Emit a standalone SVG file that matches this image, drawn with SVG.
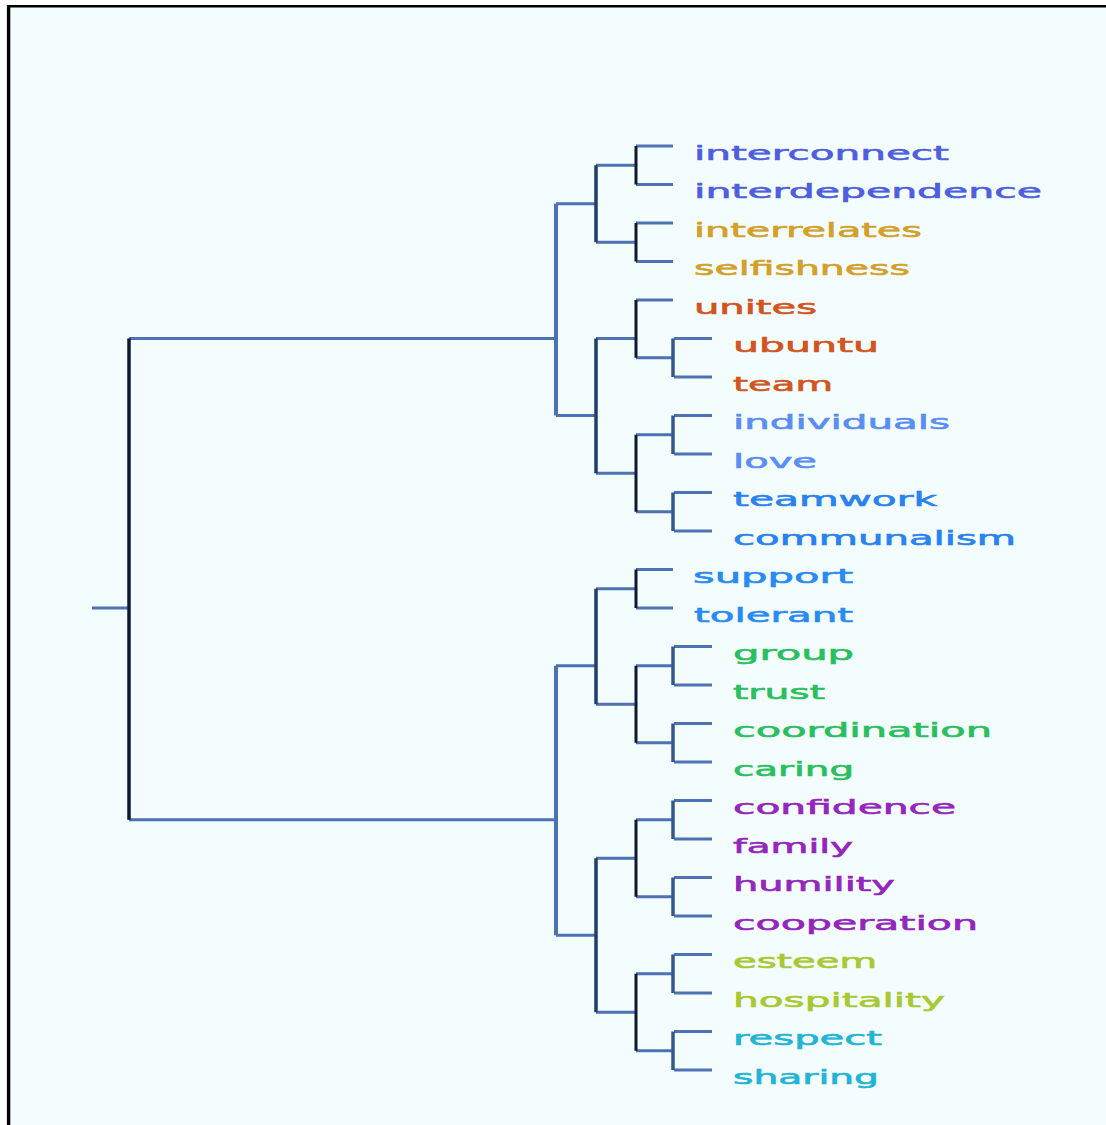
<svg xmlns="http://www.w3.org/2000/svg" width="1106" height="1125" viewBox="0 0 1106 1125">
<style>
.t{font-family:"DejaVu Sans","Liberation Sans",sans-serif;font-size:20px;stroke-width:0.6}
.h{stroke:#4c72b4;stroke-width:3;fill:none}
.v0{stroke:#0e1830;stroke-width:3.5;fill:none}
.v1{stroke:#4c72b4;stroke-width:4;fill:none}
.v2{stroke:#223d66;stroke-width:3.5;fill:none}
.v3{stroke:#0e1830;stroke-width:3;fill:none}
.v4{stroke:#35568e;stroke-width:3.5;fill:none}
.c1{fill:#4e5ede;stroke:#4e5ede}.c2{fill:#d3a02a;stroke:#d3a02a}.c3{fill:#d25420;stroke:#d25420}.c4{fill:#5a8ef3;stroke:#5a8ef3}.c5{fill:#2a82f0;stroke:#2a82f0}
.c6{fill:#2a8af3;stroke:#2a8af3}.c7{fill:#2abf5e;stroke:#2abf5e}.c8{fill:#9426bc;stroke:#9426bc}.c9{fill:#a9c832;stroke:#a9c832}.c10{fill:#22b4d4;stroke:#22b4d4}
</style>
<rect width="1106" height="1125" fill="#ffffff"/>
<rect x="8" y="6" width="1098" height="1119" fill="#f4fdfd"/>
<g id="frame">
<line x1="7" y1="6.2" x2="1106" y2="6.2" stroke="#000" stroke-width="2.6"/>
<line x1="8.6" y1="5" x2="8.6" y2="1125" stroke="#000" stroke-width="3.4"/>
</g>
<g id="connectors">
<path class="h" d="M92,608H129M129,338.5H556M129,819.75H556"/>
<path class="v0" d="M129,338.5V819.75"/>
<path class="h" d="M556,203.75H596M556,415.5H596M556,665.75H596M556,935.25H596"/>
<path class="v1" d="M556,203.75V415.5M556,665.75V935.25"/>
<path class="h" d="M596,165.25H636M596,242.25H636M596,338.5H636M596,473.25H636M596,588.75H636M596,704.25H636M596,858.25H636M596,1012.25H636"/>
<path class="v2" d="M596,165.25V242.25M596,338.5V473.25M596,588.75V704.25M596,858.25V1012.25"/>
<path class="h" d="M636,146H673M636,184.5H673M636,223H673M636,261.5H673M636,300H673M636,569.5H673M636,608H673"/>
<path class="h" d="M636,357.75H674M636,434.75H674M636,511.75H674M636,665.75H674M636,742.75H674M636,819.75H674M636,896.75H674M636,973.75H674M636,1050.75H674"/>
<path class="v3" d="M636,146V184.5M636,223V261.5M636,300V357.75M636,434.75V511.75M636,569.5V608M636,665.75V742.75M636,819.75V896.75M636,973.75V1050.75"/>
<path class="h" d="M674,338.5H712M674,377H712M674,415.5H712M674,454H712M674,492.5H712M674,531H712M674,646.5H712M674,685H712M674,723.5H712M674,762H712M674,800.5H712M674,839H712M674,877.5H712M674,916H712M674,954.5H712M674,993H712M674,1031.5H712M674,1070H712"/>
<path class="v4" d="M673,338.5V377M673,415.5V454M673,492.5V531M673,646.5V685M673,723.5V762M673,800.5V839M673,877.5V916M673,954.5V993M673,1031.5V1070"/>
</g>
<g id="n-interconnect"><text class="t c1" x="694" y="159.5" textLength="255" lengthAdjust="spacingAndGlyphs">interconnect</text></g>
<g id="n-interdependence"><text class="t c1" x="694" y="198" textLength="348" lengthAdjust="spacingAndGlyphs">interdependence</text></g>
<g id="n-interrelates"><text class="t c2" x="694" y="236.5" textLength="228" lengthAdjust="spacingAndGlyphs">interrelates</text></g>
<g id="n-selfishness"><text class="t c2" x="694" y="275" textLength="216" lengthAdjust="spacingAndGlyphs">selfishness</text></g>
<g id="n-unites"><text class="t c3" x="694" y="313.5" textLength="123" lengthAdjust="spacingAndGlyphs">unites</text></g>
<g id="n-ubuntu"><text class="t c3" x="733" y="352" textLength="146" lengthAdjust="spacingAndGlyphs">ubuntu</text></g>
<g id="n-team"><text class="t c3" x="733" y="390.5" textLength="100" lengthAdjust="spacingAndGlyphs">team</text></g>
<g id="n-individuals"><text class="t c4" x="733" y="429" textLength="217" lengthAdjust="spacingAndGlyphs">individuals</text></g>
<g id="n-love"><text class="t c4" x="733" y="467.5" textLength="84" lengthAdjust="spacingAndGlyphs">love</text></g>
<g id="n-teamwork"><text class="t c5" x="733" y="506" textLength="204" lengthAdjust="spacingAndGlyphs">teamwork</text></g>
<g id="n-communalism"><text class="t c5" x="733" y="544.5" textLength="283" lengthAdjust="spacingAndGlyphs">communalism</text></g>
<g id="n-support"><text class="t c6" x="693" y="583" textLength="160" lengthAdjust="spacingAndGlyphs">support</text></g>
<g id="n-tolerant"><text class="t c6" x="694" y="621.5" textLength="159" lengthAdjust="spacingAndGlyphs">tolerant</text></g>
<g id="n-group"><text class="t c7" x="733" y="660" textLength="121" lengthAdjust="spacingAndGlyphs">group</text></g>
<g id="n-trust"><text class="t c7" x="733" y="698.5" textLength="92" lengthAdjust="spacingAndGlyphs">trust</text></g>
<g id="n-coordination"><text class="t c7" x="733" y="737" textLength="259" lengthAdjust="spacingAndGlyphs">coordination</text></g>
<g id="n-caring"><text class="t c7" x="733" y="775.5" textLength="121" lengthAdjust="spacingAndGlyphs">caring</text></g>
<g id="n-confidence"><text class="t c8" x="733" y="814" textLength="223" lengthAdjust="spacingAndGlyphs">confidence</text></g>
<g id="n-family"><text class="t c8" x="733" y="852.5" textLength="120" lengthAdjust="spacingAndGlyphs">family</text></g>
<g id="n-humility"><text class="t c8" x="733" y="891" textLength="162" lengthAdjust="spacingAndGlyphs">humility</text></g>
<g id="n-cooperation"><text class="t c8" x="733" y="929.5" textLength="245" lengthAdjust="spacingAndGlyphs">cooperation</text></g>
<g id="n-esteem"><text class="t c9" x="733" y="968" textLength="144" lengthAdjust="spacingAndGlyphs">esteem</text></g>
<g id="n-hospitality"><text class="t c9" x="733" y="1006.5" textLength="212" lengthAdjust="spacingAndGlyphs">hospitality</text></g>
<g id="n-respect"><text class="t c10" x="733" y="1045" textLength="149" lengthAdjust="spacingAndGlyphs">respect</text></g>
<g id="n-sharing"><text class="t c10" x="733" y="1083.5" textLength="146" lengthAdjust="spacingAndGlyphs">sharing</text></g>
</svg>
